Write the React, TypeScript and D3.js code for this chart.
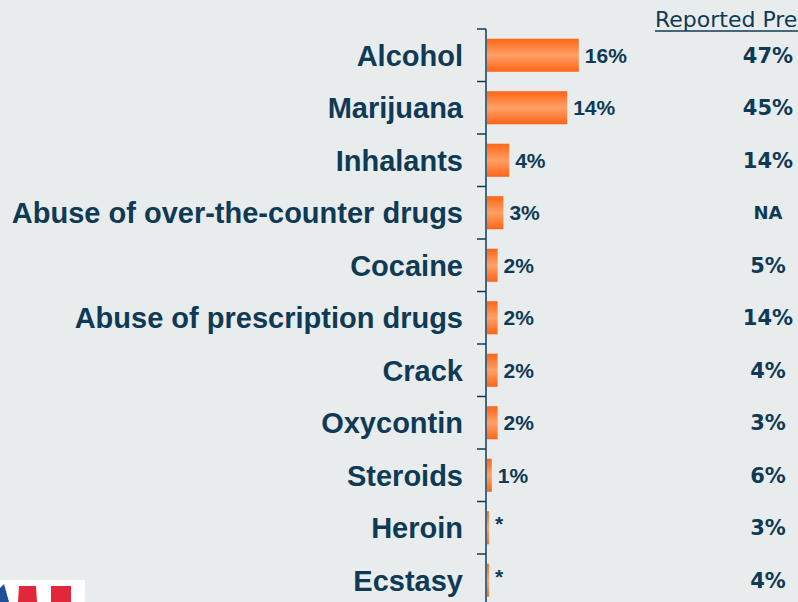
import React, { useRef, useEffect } from "react";
import * as d3 from "d3";

const categories = [
    "Alcohol",
    "Marijuana",
    "Inhalants",
    "Abuse of over-the-counter drugs",
    "Cocaine",
    "Abuse of prescription drugs",
    "Crack",
    "Oxycontin",
    "Steroids",
    "Heroin",
    "Ecstasy",
];
const barValues = [16, 14, 4, 3, 2, 2, 2, 2, 1, 0.5, 0.5];
const barLabels = ["16%", "14%", "4%", "3%", "2%", "2%", "2%", "2%", "1%", "*", "*"];
const reportedLabels = ["47%", "45%", "14%", "NA", "5%", "14%", "4%", "3%", "6%", "3%", "4%"];
const reportedTitle = "Reported Pre";

const W = 798;
const H = 602;
const NAVY = "#0f3a55";

const App: React.FC = () => {
    const svgRef = useRef<SVGSVGElement | null>(null);

    useEffect(() => {
        const svg = d3.select(svgRef.current);
        svg.selectAll("*").remove();
        svg.attr("width", W).attr("height", H);

        svg.append("rect").attr("width", W).attr("height", H).attr("fill", "#e8eced");

        const defs = svg.append("defs");
        const grad = defs
            .append("linearGradient")
            .attr("id", "barGrad")
            .attr("x1", 0)
            .attr("y1", 0)
            .attr("x2", 0)
            .attr("y2", 1);
        grad.append("stop").attr("offset", "0%").attr("stop-color", "#ff6516");
        grad.append("stop").attr("offset", "50%").attr("stop-color", "#ffa066");
        grad.append("stop").attr("offset", "100%").attr("stop-color", "#ff6516");

        const top = 29;
        const step = 52.5;
        const y = d3
            .scaleBand<string>()
            .domain(categories)
            .range([top, top + step * categories.length])
            .paddingInner(0.37)
            .paddingOuter(0.185);
        const x = d3.scaleLinear().domain([0, 100]).range([486, 486 + 580]);
        const gap = (y.step() - y.bandwidth()) / 2;

        // axis
        svg.append("line")
            .attr("x1", x(0))
            .attr("x2", x(0))
            .attr("y1", top)
            .attr("y2", H)
            .attr("stroke", NAVY)
            .attr("stroke-width", 1.5);
        svg.selectAll(".tick")
            .data(categories)
            .join("line")
            .attr("x1", x(0) - 9)
            .attr("x2", x(0))
            .attr("y1", (d) => (y(d) as number) - gap)
            .attr("y2", (d) => (y(d) as number) - gap)
            .attr("stroke", NAVY)
            .attr("stroke-width", 1.5);

        // bars
        svg.selectAll(".bar")
            .data(categories)
            .join("rect")
            .attr("x", x(0) + 1)
            .attr("y", (d) => y(d) as number)
            .attr("width", (d, i) => x(barValues[i]) - x(0) - 1)
            .attr("height", y.bandwidth())
            .attr("fill", "url(#barGrad)");

        const mid = (d: string) => (y(d) as number) + y.bandwidth() / 2;

        // category labels
        svg.selectAll(".cat")
            .data(categories)
            .join("text")
            .attr("x", 463)
            .attr("y", mid)
            .attr("dy", "0.36em")
            .attr("text-anchor", "end")
            .attr("font-family", "'Liberation Sans', Arial, sans-serif")
            .attr("font-weight", "bold")
            .attr("font-size", 29)
            .attr("fill", NAVY)
            .text((d) => d);

        // bar value labels
        svg.selectAll(".val")
            .data(categories)
            .join("text")
            .attr("x", (d, i) => x(barValues[i]) + 6)
            .attr("y", (d, i) => mid(d) + (barLabels[i] === "*" ? -4 : 0))
            .attr("dy", "0.36em")
            .attr("font-family", "'Liberation Sans', Arial, sans-serif")
            .attr("font-weight", "bold")
            .attr("font-size", 21)
            .attr("fill", NAVY)
            .text((d, i) => barLabels[i]);

        // reported column
        svg.append("text")
            .attr("x", 655)
            .attr("y", 27)
            .attr("font-family", "'DejaVu Sans', Verdana, sans-serif")
            .attr("font-size", 22)
            .attr("fill", NAVY)
            .text(reportedTitle);
        svg.append("line")
            .attr("x1", 655)
            .attr("x2", W)
            .attr("y1", 31)
            .attr("y2", 31)
            .attr("stroke", NAVY)
            .attr("stroke-width", 1.6);

        svg.selectAll(".rep")
            .data(categories)
            .join("text")
            .attr("x", 768)
            .attr("y", mid)
            .attr("dy", "0.36em")
            .attr("text-anchor", "middle")
            .attr("font-family", "'DejaVu Sans', Verdana, sans-serif")
            .attr("font-weight", "bold")
            .attr("font-size", (d, i) => (reportedLabels[i] === "NA" ? 18 : 21))
            .attr("fill", NAVY)
            .text((d, i) => reportedLabels[i]);

        // logo fragment bottom-left
        const logo = svg.append("g");
        logo.append("rect").attr("x", 0).attr("y", 580).attr("width", 85).attr("height", 22).attr("fill", "#ffffff");
        logo.append("polygon").attr("points", "0,602 0,588 4,584 9,602").attr("fill", "#1f4f9a");
        logo.append("polygon").attr("points", "18,602 19,586 36,586 37,602").attr("fill", "#e0283a");
        logo.append("polygon").attr("points", "51,602 51,586 71,586 71,602").attr("fill", "#e0283a");

        return () => {
            svg.selectAll("*").remove();
        };
    }, []);

    return (
        <svg
            ref={svgRef}
            style={{ position: "absolute", left: 0, top: 0, display: "block" }}
        ></svg>
    );
};

export default App;
